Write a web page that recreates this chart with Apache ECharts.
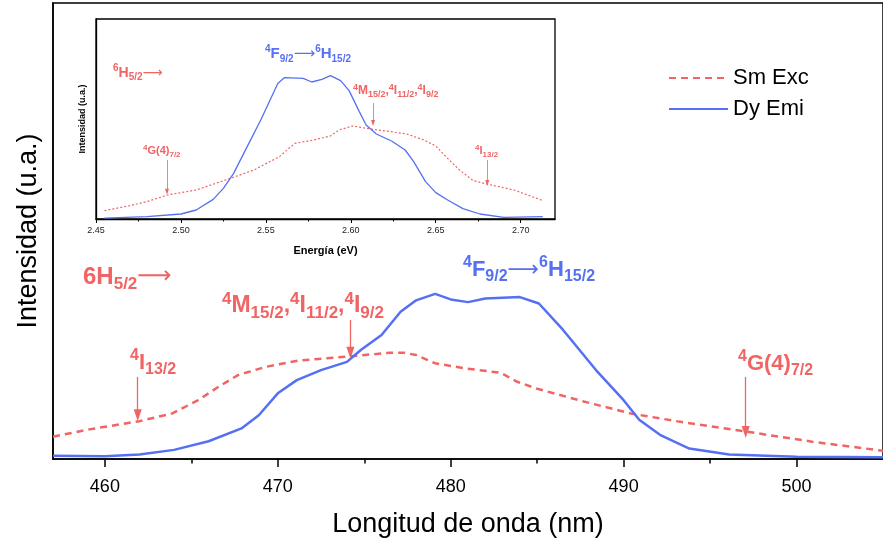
<!DOCTYPE html>
<html><head><meta charset="utf-8">
<script src="https://cdn.jsdelivr.net/npm/echarts@6/dist/echarts.min.js"></script>
<style>html,body{margin:0;padding:0;background:#fff}#c{width:883px;height:547px}</style>
</head><body><div id="c"></div>
<script>
// ---- main chart data (wavelength, nm) ----
var mainSmX = [457, 459.1, 462, 463.9, 465.4, 466.6, 467.7, 469.3, 471.2, 473.5, 474.4, 476.5, 477.3, 478, 479.1, 480.8, 482.9, 483.8, 485, 487.7, 490.4, 493.2, 497.1, 500.9, 505];
var mainSmY = [4.9, 6.5, 8.3, 10.0, 12.9, 15.9, 18.4, 20.2, 21.6, 22.3, 22.6, 23.3, 23.3, 22.8, 21.0, 19.9, 18.9, 17.0, 15.4, 12.6, 10.0, 8.2, 6.0, 3.8, 1.8];
var mainDyX = [457, 460, 462, 464, 466, 467.9, 468.9, 470, 471.1, 472.5, 474, 474.8, 476, 477.1, 478, 479.1, 480, 481, 482, 484, 485.1, 486.5, 488.4, 490, 490.9, 492.1, 493.8, 496.1, 500, 505];
var mainDyY = [0.7, 0.6, 1.0, 2.0, 3.9, 6.7, 9.6, 14.4, 17.3, 19.5, 21.3, 23.9, 27.2, 32.3, 34.8, 36.2, 35.0, 34.4, 35.2, 35.5, 34.1, 28.3, 19.5, 12.9, 8.6, 5.3, 2.3, 1.0, 0.5, 0.4];
// ---- inset data (energy, eV) ----
var insetSmE = [2.455, 2.470, 2.480, 2.492, 2.509, 2.529, 2.543, 2.558, 2.567, 2.578, 2.588, 2.593, 2.601, 2.606, 2.613, 2.625, 2.633, 2.643, 2.650, 2.657, 2.664, 2.672, 2.680, 2.696, 2.713];
var insetSmY = [4.2, 6.7, 8.7, 12, 14.5, 20.3, 24.5, 31.2, 37.8, 39.5, 41.5, 44.5, 46.5, 45.8, 44.8, 43.5, 42.5, 39.5, 36.5, 30.3, 24.5, 19.2, 17.5, 14.5, 9.2];
var insetDyE = [2.455, 2.480, 2.50, 2.509, 2.519, 2.525, 2.531, 2.539, 2.547, 2.557, 2.561, 2.572, 2.577, 2.583, 2.588, 2.594, 2.599, 2.605, 2.609, 2.615, 2.624, 2.632, 2.637, 2.644, 2.650, 2.657, 2.666, 2.676, 2.690, 2.713];
var insetDyY = [0.4, 1.2, 2.5, 4.5, 9.8, 15.3, 22.8, 36.2, 49.5, 67.8, 70.7, 70.3, 68.5, 69.8, 71.7, 69.2, 64.2, 53.7, 47, 42.5, 39, 34.5, 28.7, 18.7, 13.2, 9.5, 5.2, 2.5, 0.8, 1.2];
// ---- ticks ----
var mainMajorTicks = [460, 470, 480, 490, 500];
var mainMinorTicks = [465, 475, 485, 495];
var insetMajorTicks = [2.45, 2.50, 2.55, 2.60, 2.65, 2.70];
var insetMinorTicks = [2.475, 2.525, 2.575, 2.625, 2.675];
// ---- annotation arrows [x, yFrom, yTo] ----
var mainArrows = [[461.9, 18.0, 9.6], [474.2, 30.5, 23.3], [497.06, 18.0, 5.9]];
var insetArrows = [[2.6131, 58, 48], [2.4918, 29.5, 13.6], [2.6803, 29.5, 18]];

var RED = '#f06464', BLUE = '#5570f2';
var FF = 'Liberation Sans, Arial, sans-serif';
function zip(a, b) { return a.map(function (v, i) { return [v, b[i]]; }); }
function arrows(list) {
  return list.map(function (a) { return [{ coord: [a[0], a[1]] }, { coord: [a[0], a[2]] }]; });
}
function rich(base, script, lh) {
  return {
    b: { fontSize: base, fontWeight: 'bold', fontFamily: FF, lineHeight: lh },
    sup: { fontSize: script, fontWeight: 'bold', fontFamily: FF, lineHeight: script, verticalAlign: 'top' },
    sub: { fontSize: script, fontWeight: 'bold', fontFamily: FF, lineHeight: script, verticalAlign: 'bottom' },
    arr: { fontSize: base, fontWeight: 'normal', fontFamily: 'DejaVu Sans', lineHeight: lh }
  };
}
function label(text, x, y, color, base, script, lh) {
  return { type: 'text', x: x, y: y, z: 100,
    style: { text: text, fill: color, align: 'left', verticalAlign: 'middle', rich: rich(base, script, lh) } };
}

var chart = echarts.init(document.getElementById('c'));
chart.setOption({
  animation: false,
  backgroundColor: '#fff',
  grid: [
    { left: 53, top: 3, width: 834, height: 456, show: true, borderColor: '#000', borderWidth: 1.5, backgroundColor: 'transparent' },
    { left: 96, top: 19, width: 459, height: 200, show: true, borderColor: '#000', borderWidth: 1.3, backgroundColor: '#fff' }
  ],
  legend: {
    orient: 'vertical', left: 663, top: 62, itemWidth: 59, itemHeight: 14, itemGap: 9,
    data: ['Sm Exc', 'Dy Emi'],
    itemStyle: { opacity: 0 },
    textStyle: { fontSize: 22, color: '#000', fontFamily: FF }
  },
  xAxis: [
    { gridIndex: 0, type: 'value', min: 457, max: 505,
      name: 'Longitud de onda (nm)', nameLocation: 'middle', nameGap: 52,
      nameTextStyle: { fontSize: 27, color: '#000', fontFamily: FF },
      axisLine: { lineStyle: { color: '#000', width: 1.5 } },
      axisTick: { customValues: mainMajorTicks, length: 8, lineStyle: { color: '#000', width: 1.5 } },
      axisLabel: { customValues: mainMajorTicks, fontSize: 18, color: '#000', margin: 19, fontFamily: FF },
      splitLine: { show: false } },
    { gridIndex: 0, type: 'value', min: 457, max: 505, position: 'bottom',
      axisLine: { show: false },
      axisTick: { customValues: mainMinorTicks, length: 4.5, lineStyle: { color: '#000', width: 1.5 } },
      axisLabel: { show: false }, splitLine: { show: false } },
    { gridIndex: 1, type: 'value', min: 2.45, max: 2.7202,
      name: 'Energía (eV)', nameLocation: 'middle', nameGap: 26,
      nameTextStyle: { fontSize: 11, fontWeight: 'bold', color: '#000', fontFamily: FF },
      axisLine: { lineStyle: { color: '#000', width: 1.3 } },
      axisTick: { customValues: insetMajorTicks, length: 4, lineStyle: { color: '#000', width: 1 } },
      axisLabel: { customValues: insetMajorTicks, fontSize: 9, color: '#222', margin: 7, fontFamily: FF,
        formatter: function (v) { return v.toFixed(2); } },
      splitLine: { show: false } },
    { gridIndex: 1, type: 'value', min: 2.45, max: 2.7202, position: 'bottom',
      axisLine: { show: false },
      axisTick: { customValues: insetMinorTicks, length: 2.5, lineStyle: { color: '#000', width: 1 } },
      axisLabel: { show: false }, splitLine: { show: false } }
  ],
  yAxis: [
    { gridIndex: 0, type: 'value', min: 0, max: 100,
      name: 'Intensidad (u.a.)', nameLocation: 'middle', nameGap: 11,
      nameTextStyle: { fontSize: 27, color: '#000', fontFamily: FF },
      axisLine: { show: true, lineStyle: { color: '#000', width: 1.5 } },
      axisTick: { show: false }, axisLabel: { show: false }, splitLine: { show: false } },
    { gridIndex: 1, type: 'value', min: 0, max: 100,
      name: 'Intensidad (u.a.)', nameLocation: 'middle', nameGap: 9,
      nameTextStyle: { fontSize: 9, fontWeight: 'bold', color: '#000', fontFamily: FF },
      axisLine: { show: true, lineStyle: { color: '#000', width: 1.3 } },
      axisTick: { show: false }, axisLabel: { show: false }, splitLine: { show: false } }
  ],
  series: [
    { name: 'Sm Exc', type: 'line', xAxisIndex: 0, yAxisIndex: 0, data: zip(mainSmX, mainSmY),
      showSymbol: false, symbol: 'none', color: RED,
      lineStyle: { color: RED, width: 2.5, type: [7, 5] },
      markLine: { silent: true, symbol: ['none', 'triangle'], symbolSize: [8, 12], label: { show: false },
        lineStyle: { color: RED, width: 1.3, type: 'solid' }, data: arrows(mainArrows) } },
    { name: 'Dy Emi', type: 'line', xAxisIndex: 0, yAxisIndex: 0, data: zip(mainDyX, mainDyY),
      showSymbol: false, symbol: 'none', color: BLUE,
      lineStyle: { color: BLUE, width: 2.5 } },
    { name: 'Sm Exc', type: 'line', xAxisIndex: 2, yAxisIndex: 1, data: zip(insetSmE, insetSmY),
      showSymbol: false, symbol: 'none', color: RED,
      lineStyle: { color: RED, width: 1.2, type: [2, 2] },
      markLine: { silent: true, symbol: ['none', 'triangle'], symbolSize: [4, 6], label: { show: false },
        lineStyle: { color: RED, width: 0.8, type: 'solid' }, data: arrows(insetArrows) } },
    { name: 'Dy Emi', type: 'line', xAxisIndex: 2, yAxisIndex: 1, data: zip(insetDyE, insetDyY),
      showSymbol: false, symbol: 'none', color: BLUE,
      lineStyle: { color: BLUE, width: 1.3 } }
  ],
  graphic: [
    label('{b|6H}{sub|5/2}{arr|⟶}', 83, 277, RED, 24, 17, 32),
    label('{sup|4}{b|F}{sub|9/2}{arr|⟶}{sup|6}{b|H}{sub|15/2}', 463, 270, BLUE, 22, 16, 30),
    label('{sup|4}{b|M}{sub|15/2}{b|,}{sup|4}{b|I}{sub|11/2}{b|,}{sup|4}{b|I}{sub|9/2}', 222, 306, RED, 23, 17, 31),
    label('{sup|4}{b|I}{sub|13/2}', 130, 363, RED, 22, 16, 30),
    label('{sup|4}{b|G(4)}{sub|7/2}', 738, 364, RED, 22, 16, 30),
    label('{sup|4}{b|F}{sub|9/2}{arr|⟶}{sup|6}{b|H}{sub|15/2}', 265, 54, BLUE, 15, 10, 20),
    label('{sup|6}{b|H}{sub|5/2}{arr|⟶}', 113, 73, RED, 14, 10, 19),
    label('{sup|4}{b|M}{sub|15/2}{b|,}{sup|4}{b|I}{sub|11/2}{b|,}{sup|4}{b|I}{sub|9/2}', 353, 91, RED, 12, 9, 16),
    label('{sup|4}{b|G(4)}{sub|7/2}', 143, 151, RED, 11, 8, 15),
    label('{sup|4}{b|I}{sub|13/2}', 475, 151, RED, 11, 8, 15)
  ]
});
</script></body></html>
